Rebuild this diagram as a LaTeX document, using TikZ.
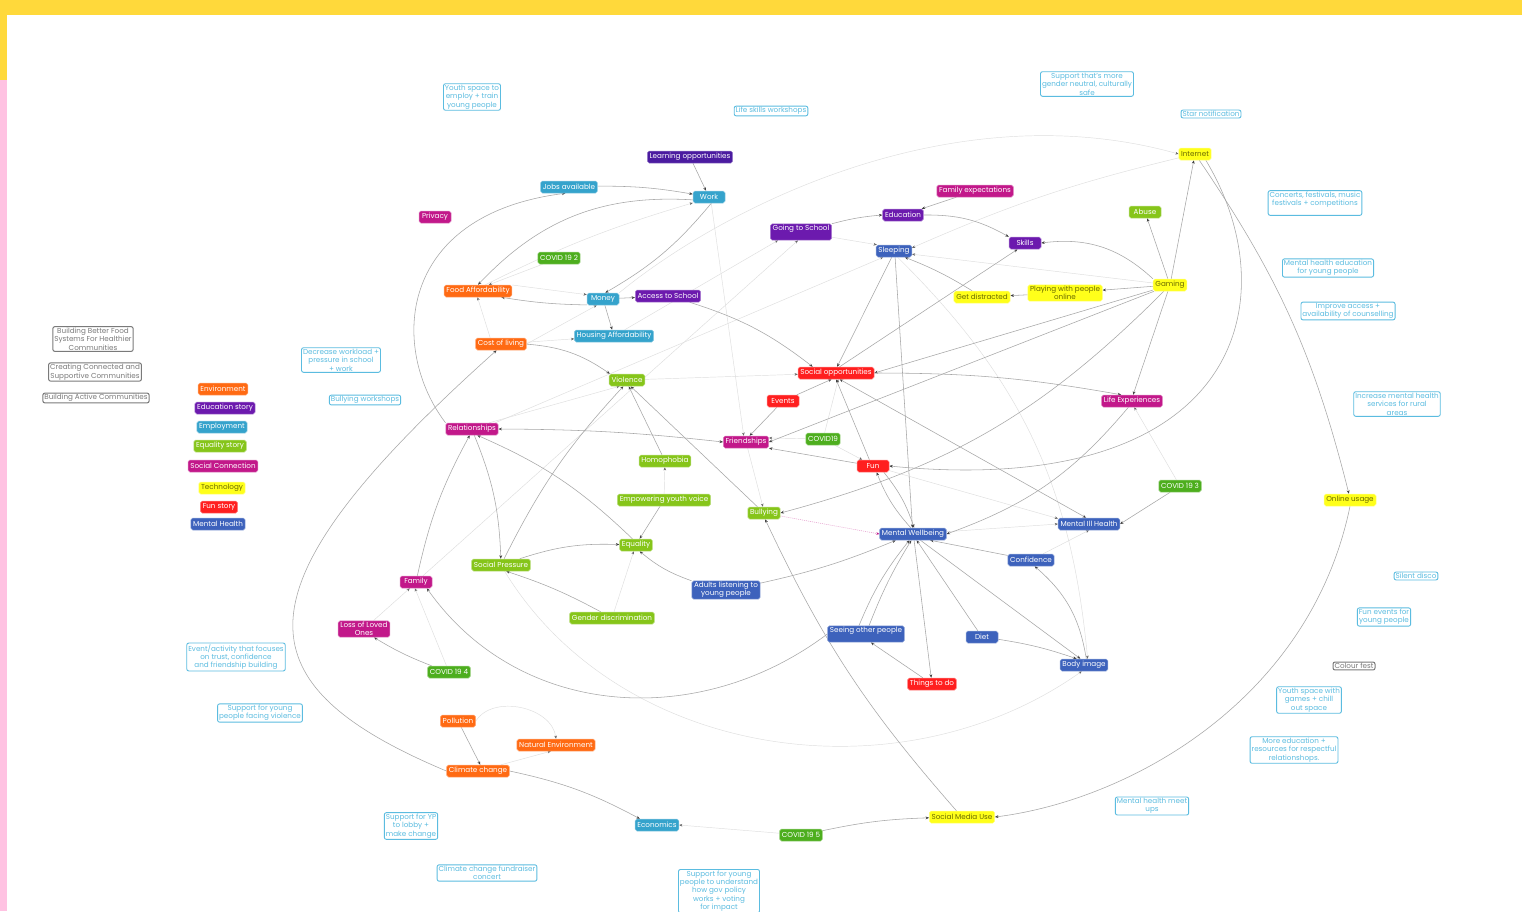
\documentclass[tikz,border=0pt]{standalone}
\usepackage{fontspec}
\setmainfont{Poppins}
\usetikzlibrary{arrows.meta}
\pgfdeclarelayer{bg}
\pgfsetlayers{bg,main}
\definecolor{cOr}{HTML}{FF6A13}
\definecolor{cPu}{HTML}{6C1AAE}
\definecolor{cIn}{HTML}{4B1BA0}
\definecolor{cTe}{HTML}{35A3CC}
\definecolor{cGr}{HTML}{86C51A}
\definecolor{cMa}{HTML}{C2188A}
\definecolor{cYe}{HTML}{FFFF1A}
\definecolor{cYt}{HTML}{6A6A00}
\definecolor{cRe}{HTML}{FF1F1F}
\definecolor{cBl}{HTML}{3D62BC}
\definecolor{cCo}{HTML}{4DAE1E}
\definecolor{cId}{HTML}{5BBCE0}
\definecolor{cGy}{HTML}{7A7A7A}
\definecolor{bgY}{HTML}{FFD93B}
\definecolor{bgP}{HTML}{FFC2E2}
\tikzset{
  nd/.style={rounded corners=1.8pt, font=\fontsize{7.2}{8.2}\selectfont, inner xsep=2.3pt, inner ysep=1.3pt,
    minimum height=12pt, minimum width=32pt, align=center, text=white, line width=0.5pt},
  sOr/.style={nd, fill=cOr, draw=cOr!55!white},
  sPu/.style={nd, fill=cPu, draw=cPu!55!white},
  sIn/.style={nd, fill=cIn, draw=cIn!55!white},
  sTe/.style={nd, fill=cTe, draw=cTe!55!white},
  sGr/.style={nd, fill=cGr, draw=cGr!55!white},
  sMa/.style={nd, fill=cMa, draw=cMa!55!white},
  sYe/.style={nd, fill=cYe, draw=cYe!55!white, text=cYt},
  sRe/.style={nd, fill=cRe, draw=cRe!55!white},
  sBl/.style={nd, fill=cBl, draw=cBl!55!white},
  sCo/.style={nd, fill=cCo, draw=cCo!55!white},
  sId/.style={rounded corners=2pt, font=\fontsize{7.2}{8.4}\selectfont, inner xsep=1.5pt, inner ysep=1.2pt,
    align=center, text=cId, draw=cId, line width=0.9pt, fill=white},
  sGy/.style={rounded corners=2pt, font=\fontsize{7.2}{8.4}\selectfont, inner xsep=1.5pt, inner ysep=1.2pt,
    align=center, text=cGy, draw=cGy, line width=1pt, fill=white},
  ed/.style={draw=black!35, line width=0.55pt, -{Stealth[length=3.5pt,width=2.8pt,color=black!75]}},
  edb/.style={draw=black!35, line width=0.55pt, {Stealth[length=3.5pt,width=2.8pt,color=black!75]}-{Stealth[length=3.5pt,width=2.8pt,color=black!75]}},
  fe/.style={draw=black!13, line width=0.45pt, -{Stealth[length=3.2pt,width=2.6pt,color=black!60]}},
  fm/.style={draw=cMa!45, line width=0.5pt, dash pattern=on 1pt off 1pt, -{Stealth[length=3.2pt,width=2.6pt,color=cMa]}}
}
\begin{document}
\begin{tikzpicture}[x=1pt,y=-1pt]
\useasboundingbox (0,0) rectangle (1522,911);
\begin{pgfonlayer}{bg}
\fill[white] (0,0) rectangle (1522,911);
\fill[bgY] (0,0) rectangle (1522,15);
\fill[bgY] (0,0) rectangle (7,80);
\fill[bgP] (0,80) rectangle (7,911);
\end{pgfonlayer}
\clip (0,0) rectangle (1522,911);

% legend
\node[sOr] (lgEnv) at (223,389) {Environment};
\node[sPu] (lgEdu) at (225,408) {Education story};
\node[sTe] (lgEmp) at (222,427) {Employment};
\node[sGr] (lgEq) at (220,446) {Equality story};
\node[sMa] (lgSoc) at (223,466) {Social Connection};
\node[sYe] (lgTech) at (222,488) {Technology};
\node[sRe] (lgFun) at (219,507) {Fun story};
\node[sBl] (lgMH) at (218,524) {Mental Health};

% grey boxes
\node[sGy] (g1) at (93,339) {Building Better Food\\Systems For Healthier\\Communities};
\node[sGy] (g2) at (95,372) {Creating Connected and\\Supportive Communities};
\node[sGy] (g3) at (96,398) {Building Active Communities};
\node[sGy] (g4) at (1354,666) {Colour fest};

% idea boxes
\node[sId] (i1) at (472,97) {Youth space to\\employ + train\\young people};
\node[sId] (i2) at (771,111) {Life skills workshops};
\node[sId] (i3) at (1087,84) {Support that's more\\gender neutral, culturally\\safe};
\node[sId] (i4) at (1211,114) {Star notification};
\node[sId] (i5) at (1315,203) {Concerts, festivals, music\\festivals + competitions\\\mbox{}};
\node[sId] (i6) at (1328,268) {Mental health education\\for young people};
\node[sId] (i7) at (1348,311) {Improve access +\\availability of counselling};
\node[sId] (i8) at (1397,404) {Increase mental health\\services for rural\\areas};
\node[sId] (i9) at (1416,576) {Silent disco};
\node[sId] (i10) at (1384,617) {Fun events for\\young people};
\node[sId] (i11) at (1309,700) {Youth space with\\games + chill\\out space};
\node[sId] (i12) at (1294,750) {More education +\\resources for respectful\\relationshops.};
\node[sId] (i13) at (1152,806) {Mental health meet\\ups};
\node[sId] (i14) at (341,360) {Decrease workload +\\pressure in school\\+ work};
\node[sId] (i15) at (365,400) {Bullying workshops};
\node[sId] (i16) at (236,657) {Event/activity that focuses\\on trust, confidence\\and friendship building};
\node[sId] (i17) at (260,713) {Support for young\\people facing violence};
\node[sId] (i18) at (411,826) {Support for YP\\to lobby +\\make change};
\node[sId] (i19) at (487,873) {Climate change fundraiser\\concert};
\node[sId, anchor=north] (i20) at (719,869) {Support for young\\people to understand\\how gov policy\\works + voting\\for impact};

% main nodes
\node[sIn] (learn) at (690,157) {Learning opportunities};
\node[sTe] (jobs) at (569,187) {Jobs available};
\node[sTe] (work) at (709,197) {Work};
\node[sMa] (privacy) at (435,217) {Privacy};
\node[sMa] (famexp) at (975,191) {Family expectations};
\node[sPu] (edu) at (903,215) {Education};
\node[sPu] (gts) at (801,232) {Going to School\\\mbox{}};
\node[sBl] (sleep) at (894,251) {Sleeping};
\node[sPu] (skills) at (1025,243) {Skills};
\node[sGr] (abuse) at (1145,212) {Abuse};
\node[sYe] (internet) at (1195,154) {Internet};
\node[sYe] (gaming) at (1170,285) {Gaming};
\node[sYe] (play) at (1065,293) {Playing with people\\online};
\node[sYe] (distract) at (982,297) {Get distracted};
\node[sCo] (covid2) at (559,258) {COVID 19 2};
\node[sOr] (food) at (478,291) {Food Affordability};
\node[sTe] (money) at (603,299) {Money};
\node[sPu] (access) at (668,296) {Access to School};
\node[sTe] (housing) at (614,336) {Housing Affordability};
\node[sOr] (cost) at (501,344) {Cost of living};
\node[sGr] (violence) at (627,380) {Violence};
\node[sRe] (socopp) at (836,373) {Social opportunities};
\node[sRe] (events) at (783,401) {Events};
\node[sMa] (lifeexp) at (1132,401) {Life Experiences};
\node[sMa] (rel) at (472,429) {Relationships};
\node[sMa] (friend) at (746,442) {Friendships};
\node[sCo] (covid19) at (823,439) {COVID19};
\node[sRe] (fun) at (873,466) {Fun};
\node[sGr] (homo) at (665,461) {Homophobia};
\node[sCo] (covid3) at (1180,486) {COVID 19 3};
\node[sYe] (online) at (1350,500) {Online usage};
\node[sGr] (empower) at (664,500) {Empowering youth voice};
\node[sGr] (bully) at (764,513) {Bullying};
\node[sBl] (mw) at (913,534) {Mental Wellbeing};
\node[sBl] (mih) at (1089,524) {Mental Ill Health};
\node[sGr] (equal) at (636,545) {Equality};
\node[sGr] (sp) at (501,565) {Social Pressure};
\node[sBl] (conf) at (1031,560) {Confidence};
\node[sBl] (adults) at (726,590) {Adults listening to\\young people};
\node[sMa] (family) at (416,582) {Family};
\node[sGr] (gender) at (612,618) {Gender discrimination};
\node[sMa] (lolo) at (364,629) {Loss of Loved\\Ones};
\node[sBl] (seeing) at (866,634) {Seeing other people\\\mbox{}};
\node[sBl] (diet) at (982,637) {Diet};
\node[sBl] (bodyimg) at (1084,665) {Body image};
\node[sCo] (covid4) at (449,672) {COVID 19 4};
\node[sRe] (things) at (932,684) {Things to do};
\node[sOr] (poll) at (458,721) {Pollution};
\node[sOr] (natenv) at (556,745) {Natural Environment};
\node[sOr] (cc) at (478,771) {Climate change};
\node[sTe] (econ) at (657,825) {Economics};
\node[sCo] (covid5) at (801,835) {COVID 19 5};
\node[sYe] (smu) at (962,817) {Social Media Use};

\begin{pgfonlayer}{bg}
% faint connectors
\draw[fe] (food.10) -- (money.165);
\draw[fe] (covid2) -- (food.30);
\draw[fe] (cost.150) -- (food.265);
\draw[fe] (cost) -- (housing);
\draw[fe] (cost.east) -- (money.225);
\draw[fe] (food.40) to[bend left=5] (work.200);
\draw[fe] (money.north east) .. controls (720,210) and (950,90) .. (internet.west);
\draw[fe] (internet) to[bend right=5] (sleep.10);
\draw[fe] (gaming) -- (sleep.350);
\draw[fe] (gts) -- (sleep.160);
\draw[fe] (housing) -- (gts.200);
\draw[fe] (violence) -- (socopp);
\draw[fe] (rel.20) -- (violence.220);
\draw[fe] (rel.15) -- (sleep.210);
\draw[fe] (family) -- (gts.250);
\draw[fe] (empower) -- (homo);
\draw[fe] (gender) -- (equal.250);
\draw[fe] (work.290) -- (friend.110);
\draw[fe] (covid19) -- (friend.10);
\draw[fe] (covid19) -- (socopp.290);
\draw[fe] (covid19) -- (fun.150);
\draw[fe] (covid3) -- (lifeexp.290);
\draw[fe] (mw) -- (mih.180);
\draw[fe] (fun) -- (mih.170);
\draw[fe] (conf) -- (mih.270);
\draw[fe] (sleep.300) to[bend left=20] (bodyimg.60);
\draw[fe] (sp.300) .. controls (620,760) and (900,800) .. (bodyimg.250);
\draw[fe] (poll.east) to[bend left=70] (natenv.north);
\draw[fe] (cc) -- (natenv.230);
\draw[fe] (covid5) -- (econ.east);
\draw[fe] (covid4) -- (family.260);
\draw[fe] (lolo) -- (family.225);
\draw[fe] (friend) -- (bully.100);
\draw[fm] (bully) -- (mw.west);

% solid connectors
\draw[ed] (learn) -- (work);
\draw[ed] (jobs) to[bend left=5] (work.170);
\draw[ed] (work.190) to[bend right=25] (food.north);
\draw[ed] (rel.north west) .. controls (390,350) and (395,215) .. (jobs.240);
\draw[ed] (work.290) to[bend left=10] (money.70);
\draw[ed] (money.200) to[bend left=4] (food.345);
\draw[ed] (money) -- (access);
\draw[ed] (money) -- (housing);
\draw[ed] (access) to[bend left=10] (socopp.165);
\draw[ed] (cost) to[bend left=15] (violence.160);
\draw[ed] (cc.west) .. controls (237,683) and (231,588) .. (cost.235);
\draw[ed] (sp) to[bend left=8] (violence.240);
\draw[ed] (homo) -- (violence.285);
\draw[ed] (bully) -- (violence.300);
\draw[ed] (empower) -- (equal.60);
\draw[ed] (rel.290) to[bend left=10] (sp);
\draw[ed] (family) to[bend left=8] (rel.250);
\draw[ed] (equal.120) to[bend right=10] (rel.310);
\draw[ed] (sp) to[bend left=10] (equal);
\draw[ed] (gender) to[bend right=5] (sp.310);
\draw[ed] (adults.165) to[bend left=10] (equal.300);
\draw[ed] (adults) to[bend right=5] (mw.200);
\draw[edb] (rel.east) to[bend left=3] (friend.west);
\draw[ed] (famexp) -- (edu);
\draw[ed] (gts.15) to[bend left=5] (edu.west);
\draw[ed] (edu.east) to[bend left=15] (skills.north west);
\draw[ed] (gaming.160) to[bend right=25] (skills.east);
\draw[ed] (gaming) -- (abuse);
\draw[ed] (gaming) -- (play);
\draw[ed] (play) -- (distract);
\draw[ed] (distract) to[bend right=5] (sleep.330);
\draw[ed] (sleep.250) -- (socopp.80);
\draw[ed] (sleep.280) -- (mw.95);
\draw[ed] (socopp.60) -- (skills.220);
\draw[ed] (gaming) -- (lifeexp.80);
\draw[ed] (gaming) -- (socopp.east);
\draw[ed] (gaming) -- (friend.east);
\draw[ed] (gaming) to[bend left=15] (bully.east);
\draw[ed] (gaming) -- (internet);
\draw[ed] (lifeexp.240) to[bend left=15] (mw.east);
\draw[ed] (socopp.east) to[bend left=5] (lifeexp.150);
\draw[edb] (mih.115) -- (socopp.300);
\draw[ed] (fun.120) -- (socopp.270);
\draw[ed] (mw.110) to[bend left=10] (fun.300);
\draw[ed] (fun.330) to[bend left=10] (mw.80);
\draw[ed] (fun) -- (friend.345);
\draw[ed] (events) -- (friend.60);
\draw[ed] (events) -- (socopp.235);
\draw[ed] (internet.330) .. controls (1290,300) and (1240,500) .. (fun.east);
\draw[ed] (internet) to[bend left=10] (online.100);
\draw[ed] (online.south) .. controls (1310,700) and (1130,800) .. (smu.east);
\draw[ed] (covid3) -- (mih.east);
\draw[ed] (conf) -- (mw.340);
\draw[ed] (bodyimg.70) to[bend right=20] (conf.300);
\draw[ed] (mw.320) -- (bodyimg.120);
\draw[ed] (diet) to[bend left=5] (bodyimg.140);
\draw[ed] (diet) -- (mw.300);
\draw[ed] (seeing.130) to[bend left=8] (mw.240);
\draw[ed] (seeing.70) to[bend left=5] (mw.255);
\draw[ed] (mw.280) -- (things);
\draw[ed] (things) -- (seeing.300);
\draw[ed] (seeing.west) .. controls (700,730) and (520,720) .. (family.330);
\draw[ed] (smu) to[bend left=8] (bully.280);
\draw[ed] (covid5) to[bend left=5] (smu);
\draw[ed] (cc.east) to[bend left=8] (econ.160);
\draw[ed] (poll) -- (cc.70);
\draw[ed] (covid4) to[bend left=5] (lolo.320);
\end{pgfonlayer}
\end{tikzpicture}
\end{document}
